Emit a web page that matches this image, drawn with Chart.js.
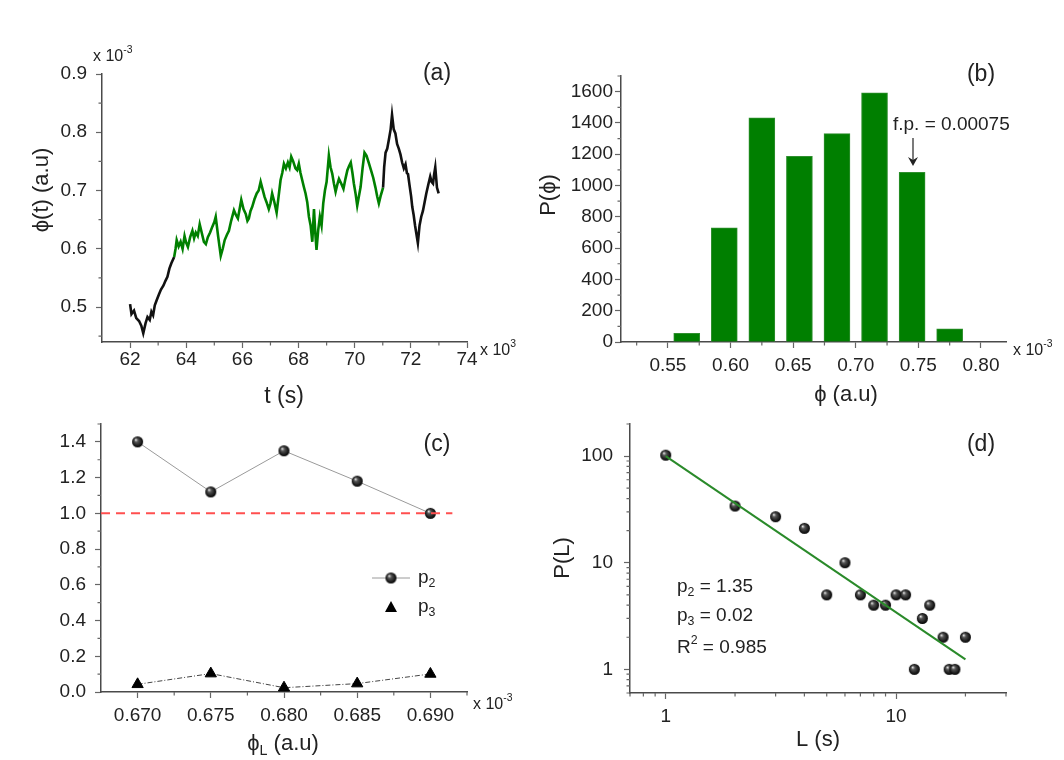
<!DOCTYPE html>
<html>
<head>
<meta charset="utf-8">
<script src="https://cdn.jsdelivr.net/npm/chart.js@4.4.0/dist/chart.umd.min.js"></script>
<style>
  body { margin: 0; background: #fff; }
  #wrap { position: relative; width: 1064px; height: 760px; }
  canvas { position: absolute; left: 0; top: 0; }
</style>
</head>
<body>
<div id="wrap">
  <canvas id="ca" width="1064" height="760"></canvas>
  <canvas id="cb" width="1064" height="760"></canvas>
  <canvas id="cc" width="1064" height="760"></canvas>
  <canvas id="cd" width="1064" height="760"></canvas>
</div>
<script>
// ---- (a) time series, t in 10^3 s, phi in 10^-3
const aTime = [62.00,62.05,62.14,62.22,62.32,62.40,62.47,62.55,62.62,62.70,62.76,62.82,62.88,62.95,63.03,63.10,63.19,63.26,63.33,63.40,
  63.47,63.57,63.62,63.66,63.73,63.80,63.87,63.94,64.00,64.06,64.14,64.22,64.28,64.34,64.41,64.48,64.55,64.63,64.70,64.77,
  64.85,64.93,65.00,65.05,65.14,65.23,65.30,65.37,65.45,65.52,65.60,65.70,65.77,65.84,65.90,65.96,66.04,66.12,66.18,66.23,
  66.29,66.35,66.43,66.51,66.58,66.65,66.72,66.79,66.86,66.94,67.00,67.06,67.14,67.22,67.29,67.36,67.42,67.48,67.55,67.62,
  67.68,67.74,67.81,67.89,67.95,68.01,68.07,68.13,68.19,68.25,68.31,68.37,68.43,68.49,68.55,68.60,68.64,68.70,68.76,68.82,
  68.88,68.94,69.00,69.08,69.14,69.20,69.26,69.32,69.38,69.44,69.52,69.60,69.67,69.74,69.80,69.86,69.92,69.97,70.03,70.09,
  70.15,70.21,70.28,70.35,70.42,70.51,70.58,70.66,70.74,70.80,70.86,70.92,70.98,71.01,71.05,71.10,71.16,71.22,71.28,71.33,
  71.39,71.45,71.51,71.57,71.63,71.69,71.75,71.81,71.86,71.90,71.95,72.01,72.05,72.10,72.15,72.20,72.25,72.31,72.37,72.43,
  72.49,72.55,72.62,72.69,72.74,72.79,72.83,72.87,72.93,72.99];
const aPhi = [0.505,0.488,0.494,0.481,0.476,0.468,0.455,0.472,0.483,0.478,0.492,0.486,0.503,0.512,0.522,0.530,0.537,0.545,0.552,0.566,
  0.575,0.586,0.600,0.615,0.604,0.612,0.600,0.622,0.610,0.603,0.620,0.631,0.618,0.628,0.622,0.642,0.628,0.612,0.608,0.620,
  0.628,0.638,0.646,0.655,0.620,0.588,0.600,0.615,0.624,0.631,0.648,0.666,0.658,0.652,0.668,0.684,0.668,0.660,0.648,0.652,
  0.665,0.672,0.685,0.695,0.700,0.715,0.702,0.689,0.680,0.668,0.678,0.695,0.680,0.662,0.690,0.718,0.730,0.746,0.738,0.748,
  0.740,0.758,0.750,0.738,0.735,0.746,0.730,0.718,0.706,0.695,0.680,0.655,0.640,0.612,0.668,0.625,0.598,0.632,0.655,0.640,
  0.678,0.700,0.715,0.760,0.740,0.729,0.712,0.698,0.710,0.720,0.712,0.703,0.720,0.735,0.742,0.748,0.730,0.712,0.695,0.674,
  0.690,0.706,0.738,0.765,0.760,0.746,0.735,0.722,0.705,0.690,0.678,0.690,0.700,0.705,0.740,0.765,0.772,0.788,0.805,0.830,
  0.805,0.798,0.780,0.772,0.762,0.748,0.738,0.745,0.730,0.728,0.710,0.690,0.672,0.658,0.640,0.625,0.610,0.640,0.655,0.665,
  0.680,0.695,0.710,0.724,0.715,0.712,0.728,0.740,0.705,0.695];
const aGreenFrom = 63.57, aGreenTo = 71.01;
const aXTicks = [62,64,66,68,70,72,74], aXMinor = [63,65,67,69,71,73];
const aYTicks = [0.5,0.6,0.7,0.8,0.9], aYMinor = [0.45,0.55,0.65,0.75,0.85];

// ---- (b) histogram
const bPhi = [0.565,0.595,0.625,0.655,0.685,0.715,0.745,0.775];
const bCount = [55,730,1432,1186,1332,1592,1085,84];
const bXTicks = [0.55,0.60,0.65,0.70,0.75,0.80], bXMinor = [0.525,0.575,0.625,0.675,0.725,0.775];
const bYTicks = [0,200,400,600,800,1000,1200,1400,1600], bYMinor = [100,300,500,700,900,1100,1300,1500,1700];

// ---- (c) exponents vs phi_L
const cPhiL = [0.670,0.675,0.680,0.685,0.690];
const cP2 = [1.40,1.12,1.35,1.18,1.00];
const cP3 = [0.043,0.103,0.024,0.047,0.101];
const cRefX = [0.6675,0.6915], cRefY = [1.0,1.0];
const cXTicks = [0.670,0.675,0.680,0.685,0.690], cXMinor = [0.6725,0.6775,0.6825,0.6875,0.6925];
const cYTicks = [0,0.2,0.4,0.6,0.8,1.0,1.2,1.4], cYMinor = [0.1,0.3,0.5,0.7,0.9,1.1,1.3,1.5];

// ---- (d) P(L) log-log
const dL = [1,2,3,4,5,6,7,8,9,10,11,12,13,14,16,17,18,20];
const dP = [102,34,27,21,5,10,5,4,4,5,5,1,3,4,2,1,1,2];
const dFitX = [1,20], dFitY = [100,1.24];
const dXTicks = [1,10], dXMinor = [0.7,0.8,0.9,2,3,4,5,6,7,8,9,20,30];
const dYTicks = [1,10,100], dYMinor = [0.6,0.7,0.8,0.9,2,3,4,5,6,7,8,9,20,30,40,50,60,70,80,90,200];

const FONT = '"Liberation Sans", Arial, sans-serif';
const INK = '#222';
const GREEN = '#008000';

function ballImg(r) {
  const c = document.createElement('canvas');
  c.width = c.height = 2 * r + 2;
  const g = c.getContext('2d');
  const m = r + 1;
  const grad = g.createRadialGradient(m - r * 0.35, m - r * 0.4, r * 0.05, m, m, r);
  grad.addColorStop(0, '#e8e8e8');
  grad.addColorStop(0.3, '#555');
  grad.addColorStop(1, '#000');
  g.fillStyle = grad;
  g.beginPath(); g.arc(m, m, r, 0, Math.PI * 2); g.fill();
  return c;
}
const ball = ballImg(5.5);

function rich(ctx, parts, x, y, size, align, rot) {
  ctx.save();
  ctx.translate(x, y);
  if (rot) ctx.rotate(rot);
  const fontFor = k => (k ? size * 0.65 : size) + 'px ' + FONT;
  let w = 0;
  parts.forEach(([t, k]) => { ctx.font = fontFor(k); w += ctx.measureText(t).width; });
  let cx = align === 'center' ? -w / 2 : align === 'right' ? -w : 0;
  ctx.textBaseline = 'middle';
  ctx.textAlign = 'left';
  ctx.fillStyle = INK;
  parts.forEach(([t, k]) => {
    ctx.font = fontFor(k);
    const dy = k === 'sup' ? -size * 0.4 : k === 'sub' ? size * 0.3 : 0;
    ctx.fillText(t, cx, dy);
    cx += ctx.measureText(t).width;
  });
  ctx.restore();
}

// minor ticks + free text for one panel
function extras(minorX, minorY, texts, custom) {
  return {
    id: 'extras',
    afterDraw(chart) {
      const ctx = chart.ctx, a = chart.chartArea;
      const sx = chart.scales.x, sy = chart.scales.y;
      ctx.save();
      ctx.strokeStyle = '#666';
      ctx.lineWidth = 1.2;
      ctx.beginPath();
      minorX.forEach(v => { const px = sx.getPixelForValue(v); ctx.moveTo(px, a.bottom); ctx.lineTo(px, a.bottom + 3.5); });
      minorY.forEach(v => { const py = sy.getPixelForValue(v); ctx.moveTo(a.left, py); ctx.lineTo(a.left - 3.5, py); });
      ctx.stroke();
      ctx.restore();
      texts.forEach(t => rich(ctx, t.parts, t.x, t.y, t.size, t.align || 'left', t.rot || 0));
      if (custom) custom(chart, ctx);
    }
  };
}

function scale(kind, o) {
  return {
    type: o.type || 'linear',
    min: o.min, max: o.max,
    offset: false,
    border: { display: true, color: '#4a4a4a', width: 1.5 },
    grid: { display: true, offset: false, drawOnChartArea: false, drawTicks: true, tickLength: 6,
            color: '#666', tickColor: '#666', tickWidth: 1.2 },
    ticks: { font: { family: FONT, size: 19 }, color: INK, padding: o.pad, maxRotation: 0, autoSkip: false,
             callback: v => o.fmt(v) },
    afterBuildTicks: s => { s.ticks = o.ticks.map(v => ({ value: v })); },
    afterFit: s => { if (kind === 'x') s.height = 40; else s.width = o.w; }
  };
}

function baseOptions(area) {
  return {
    responsive: false,
    animation: false,
    devicePixelRatio: 1,
    layout: { padding: { left: 0, top: area.t, right: 1064 - area.r, bottom: 760 - area.b - 40 } },
    plugins: { legend: { display: false }, tooltip: { enabled: false } }
  };
}

const pts = (xs, ys) => xs.map((x, i) => ({ x: x, y: ys[i] }));

// ---- (a)
new Chart(document.getElementById('ca'), {
  type: 'line',
  data: { datasets: [{
    data: pts(aTime, aPhi),
    borderWidth: 2.6, pointRadius: 0, tension: 0,
    borderColor: '#111',
    segment: { borderColor: c => (c.p0.parsed.x >= aGreenFrom && c.p1.parsed.x <= aGreenTo) ? GREEN : '#111' }
  }] },
  options: Object.assign(baseOptions({ t: 74, r: 467, b: 342 }), {
    scales: {
      x: scale('x', { min: 61, max: 74, ticks: aXTicks, pad: 0, fmt: v => String(v) }),
      y: scale('y', { min: 0.44, max: 0.9, ticks: aYTicks, pad: 9, w: 102, fmt: v => v.toFixed(1) })
    }
  }),
  plugins: [extras(aXMinor, aYMinor, [
    { parts: [['x 10'], ['-3', 'sup']], x: 93, y: 57, size: 16 },
    { parts: [['(a)']], x: 437, y: 74, size: 23, align: 'center' },
    { parts: [['x 10'], ['3', 'sup']], x: 480, y: 351, size: 16 },
    { parts: [['ϕ(t) (a.u)']], x: 42, y: 190, size: 22, align: 'center', rot: -Math.PI / 2 },
    { parts: [['t (s)']], x: 284, y: 397, size: 23, align: 'center' }
  ])]
});

// ---- (b)
new Chart(document.getElementById('cb'), {
  type: 'bar',
  data: { datasets: [{
    data: pts(bPhi, bCount),
    backgroundColor: '#007f00', borderColor: '#2f8f2f', borderWidth: 1, barThickness: 26
  }] },
  options: Object.assign(baseOptions({ t: 76, r: 1006, b: 342 }), {
    scales: {
      x: scale('x', { min: 0.5125, max: 0.82, ticks: bXTicks, pad: 6, fmt: v => v.toFixed(2) }),
      y: scale('y', { min: 0, max: 1700, ticks: bYTicks, pad: 2, w: 621, fmt: v => String(v) })
    }
  }),
  plugins: [extras(bXMinor, bYMinor, [
    { parts: [['(b)']], x: 981, y: 75, size: 23, align: 'center' },
    { parts: [['f.p. = 0.00075']], x: 893, y: 125, size: 19 },
    { parts: [['x 10'], ['-3', 'sup']], x: 1013, y: 351, size: 16 },
    { parts: [['P(ϕ)']], x: 549, y: 195, size: 22, align: 'center', rot: -Math.PI / 2 },
    { parts: [['ϕ (a.u)']], x: 846, y: 395, size: 22, align: 'center' }
  ], (chart, ctx) => {
    ctx.save();
    ctx.strokeStyle = '#222'; ctx.fillStyle = '#222'; ctx.lineWidth = 1.2;
    ctx.beginPath(); ctx.moveTo(913, 138); ctx.lineTo(913, 160); ctx.stroke();
    ctx.beginPath(); ctx.moveTo(908, 157); ctx.lineTo(913, 166); ctx.lineTo(918, 157); ctx.lineTo(913, 160); ctx.closePath(); ctx.fill();
    ctx.restore();
  })]
});

// ---- (c)
new Chart(document.getElementById('cc'), {
  type: 'line',
  data: { datasets: [
    { data: pts(cRefX, cRefY), borderColor: '#ff4f4f', borderWidth: 2, borderDash: [9, 6], pointRadius: 0 },
    { data: pts(cPhiL, cP2), borderColor: '#9a9a9a', borderWidth: 1, pointStyle: ball, pointRadius: 6 },
    { data: pts(cPhiL, cP3), borderColor: '#444', borderWidth: 1, borderDash: [5, 2, 1, 2],
      pointStyle: 'triangle', pointRadius: 6.5, pointBackgroundColor: '#000', pointBorderColor: '#000' }
  ] },
  options: Object.assign(baseOptions({ t: 424, r: 467, b: 692 }), {
    clip: false,
    scales: {
      x: scale('x', { min: 0.6675, max: 0.6925, ticks: cXTicks, pad: 6, fmt: v => v.toFixed(3) }),
      y: scale('y', { min: 0, max: 1.5, ticks: cYTicks, pad: 9, w: 101, fmt: v => v.toFixed(1) })
    }
  }),
  plugins: [extras(cXMinor, cYMinor, [
    { parts: [['(c)']], x: 437, y: 445, size: 23, align: 'center' },
    { parts: [['x 10'], ['-3', 'sup']], x: 473, y: 705, size: 16 },
    { parts: [['ϕ'], ['L', 'sub'], [' (a.u)']], x: 283, y: 744, size: 22, align: 'center' },
    { parts: [['p'], ['2', 'sub']], x: 418, y: 578, size: 19 },
    { parts: [['p'], ['3', 'sub']], x: 418, y: 607, size: 19 }
  ], (chart, ctx) => {
    ctx.save();
    ctx.strokeStyle = '#9a9a9a'; ctx.lineWidth = 1;
    ctx.beginPath(); ctx.moveTo(372, 578); ctx.lineTo(410, 578); ctx.stroke();
    ctx.drawImage(ball, 391 - ball.width / 2, 578 - ball.height / 2);
    ctx.fillStyle = '#000';
    ctx.beginPath(); ctx.moveTo(391, 601); ctx.lineTo(397, 612); ctx.lineTo(385, 612); ctx.closePath(); ctx.fill();
    ctx.restore();
  })]
});

// ---- (d)
new Chart(document.getElementById('cd'), {
  type: 'scatter',
  data: { datasets: [
    { type: 'line', data: pts(dFitX, dFitY), borderColor: '#2a8a2a', borderWidth: 2, pointRadius: 0 },
    { data: pts(dL, dP), pointStyle: ball, pointRadius: 6 }
  ] },
  options: Object.assign(baseOptions({ t: 424, r: 1006, b: 693 }), {
    clip: false,
    scales: {
      x: scale('x', { type: 'logarithmic', min: 0.7, max: 30, ticks: dXTicks, pad: 6, fmt: v => String(v) }),
      y: scale('y', { type: 'logarithmic', min: 0.6, max: 200, ticks: dYTicks, pad: 11, w: 630, fmt: v => String(v) })
    }
  }),
  plugins: [extras(dXMinor, dYMinor, [
    { parts: [['(d)']], x: 981, y: 445, size: 23, align: 'center' },
    { parts: [['p'], ['2', 'sub'], [' = 1.35']], x: 677, y: 587, size: 19 },
    { parts: [['p'], ['3', 'sub'], [' = 0.02']], x: 677, y: 616, size: 19 },
    { parts: [['R'], ['2', 'sup'], [' = 0.985']], x: 677, y: 648, size: 19 },
    { parts: [['L (s)']], x: 818, y: 740, size: 22, align: 'center' },
    { parts: [['P(L)']], x: 563, y: 558, size: 22, align: 'center', rot: -Math.PI / 2 }
  ])]
});
</script>
</body>
</html>
